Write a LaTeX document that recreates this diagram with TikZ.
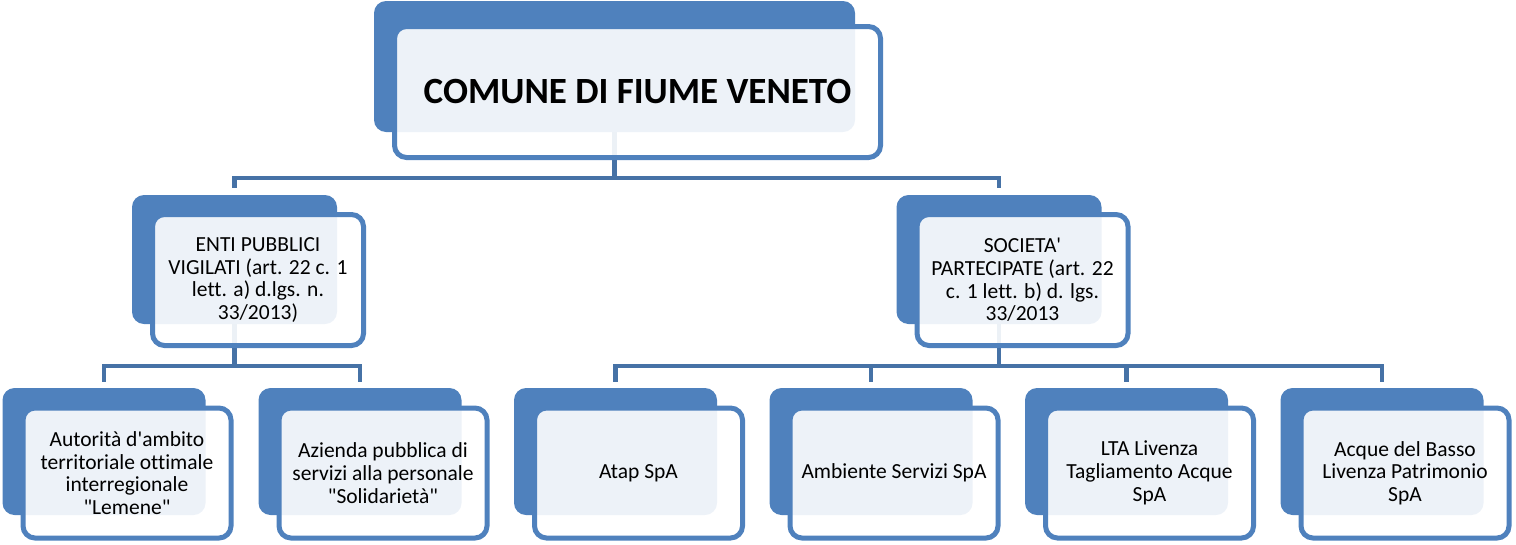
\documentclass[tikz,border=0pt]{standalone}
\usepackage{fontspec}
\setmainfont{Carlito}[Ligatures={TeXOff,NoCommon}]
\usepackage{tikz}
\usetikzlibrary{positioning,calc,backgrounds}
\usepackage{xcolor}
\definecolor{boxblue}{RGB}{79, 129, 189}
\definecolor{linkblue}{RGB}{70, 114, 166}

\begin{document}
\begin{tikzpicture}[
    x=1pt, y=-1pt,
    backbox/.style={fill=boxblue, rounded corners=12pt, inner sep=0pt, minimum width=203pt, minimum height=127pt},
    frontbox/.style={draw=boxblue, line width=5pt, fill=white, fill opacity=0.9, text opacity=1,
        rounded corners=12pt, align=center, inner sep=0pt, minimum width=208pt, minimum height=130pt,
        font=\fontsize{21.5}{22.7}\selectfont},
    link/.style={draw=linkblue, line width=4.5pt}
]
    \useasboundingbox (0,0) rectangle (1516,544);

    % Top box
    \node[backbox, minimum width=481pt, minimum height=131pt] (comune-b) at (614.5,66.5) {};
    \node[frontbox, minimum width=486pt, minimum height=131pt, font=\fontsize{37}{44}\selectfont\bfseries] (comune) at (637.5,92) {COMUNE DI FIUME VENETO};

    % Second row
    \node[backbox, minimum width=205pt, minimum height=129pt] (enti-b) at (234.5,259.5) {};
    \node[frontbox, minimum width=211pt, minimum height=131pt] (enti) at (258,280) {ENTI PUBBLICI\\VIGILATI (art. 22 c. 1\\lett. a) d.lgs. n.\\33/2013)};
    \node[backbox, minimum width=205pt, minimum height=129pt] (soc-b) at (999,259.5) {};
    \node[frontbox, minimum width=211pt, minimum height=131pt] (soc) at (1022.5,280) {SOCIETA'\\PARTECIPATE (art. 22\\c. 1 lett. b) d. lgs.\\33/2013};

    % Bottom row
    \foreach \n/\x/\txt in {
        c1/104/{Autorità d'ambito\\territoriale ottimale\\interregionale\\"Lemene"},
        c2/360/{Azienda pubblica di\\servizi alla personale\\"Solidarietà"},
        c3/615.5/{Atap SpA},
        c4/871/{Ambiente Servizi SpA},
        c5/1126.5/{LTA Livenza\\Tagliamento Acque\\SpA},
        c6/1382/{Acque del Basso\\Livenza Patrimonio\\SpA}} {
        \node[backbox] (\n-b) at (\x,451.5) {};
        \node[frontbox] (\n) at (\x+23,473) {\txt};
    }

    % Connectors
    \begin{scope}[on background layer]
        \foreach \c in {enti,soc}
            \draw[link] (comune-b.south) -- ++(0,46) -| ($(\c-b.north)+(0,-7)$);
        \foreach \c in {c1,c2}
            \draw[link] (enti-b.south) -- ++(0,42) -| ($(\c-b.north)+(0,-6)$);
        \foreach \c in {c3,c4,c5,c6}
            \draw[link] (soc-b.south) -- ++(0,42) -| ($(\c-b.north)+(0,-6)$);
    \end{scope}
\end{tikzpicture}
\end{document}
